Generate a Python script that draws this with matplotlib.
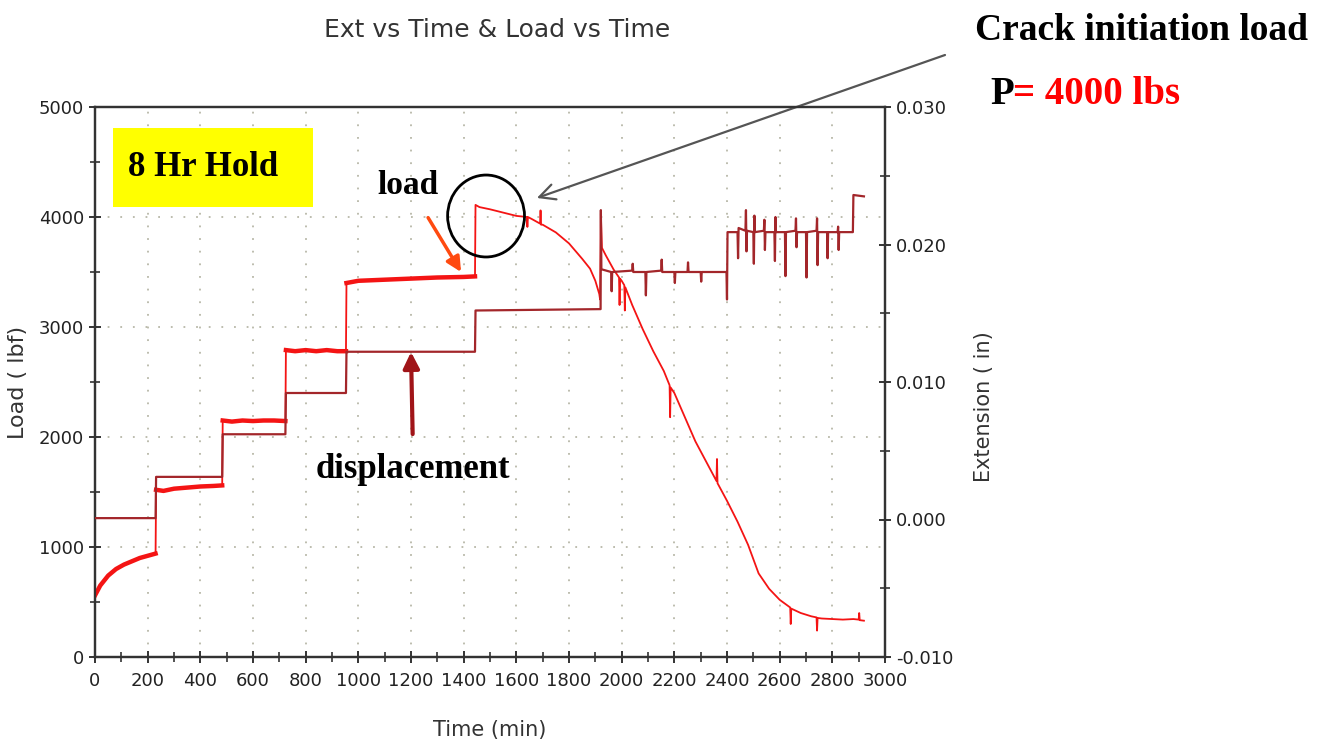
import numpy as np
from matplotlib import pyplot as plt
from matplotlib.patches import Ellipse, Rectangle

# load cell channel (lbf) vs time (min)
load_t = [0, 20, 50, 80, 110, 140, 170, 200, 230,
          232, 260, 300, 350, 400, 450, 483,
          485, 520, 560, 600, 640, 680, 723,
          725, 760, 800, 840, 880, 920, 953,
          955, 1000, 1100, 1200, 1300, 1400, 1443,
          1445, 1460, 1500, 1550, 1600, 1640, 1642, 1644, 1660, 1690, 1692, 1694,
          1700, 1750, 1800, 1850, 1880, 1900, 1915, 1918,
          1920, 1921, 1925, 1940, 1970, 1990, 1992, 1994, 2000, 2010, 2012, 2014,
          2040, 2080, 2120, 2160, 2182, 2184, 2186, 2200, 2240, 2280, 2320,
          2360, 2362, 2364, 2400, 2440, 2480, 2520, 2560, 2600, 2640, 2642, 2644,
          2680, 2720, 2740, 2742, 2744, 2760, 2800, 2840, 2880, 2900, 2902, 2904, 2920]
load_v = [560, 650, 740, 800, 840, 870, 900, 920, 940,
          1520, 1510, 1530, 1540, 1550, 1555, 1560,
          2150, 2140, 2150, 2145, 2150, 2150, 2145,
          2790, 2780, 2790, 2780, 2790, 2780, 2780,
          3400, 3420, 3430, 3440, 3450, 3455, 3460,
          4110, 4090, 4070, 4040, 4010, 4000, 3910, 4000, 3980, 3940, 4060, 3930,
          3930, 3860, 3760, 3620, 3530, 3420, 3300, 3250,
          3700, 4030, 3720, 3650, 3520, 3450, 3200, 3440, 3420, 3380, 3150, 3360,
          3200, 2980, 2780, 2600, 2470, 2180, 2450, 2400, 2180, 1960, 1780,
          1600, 1800, 1580, 1420, 1230, 1020, 760, 620, 520, 450, 300, 440,
          400, 370, 360, 240, 355, 350, 345, 340, 345, 340, 400, 335, 330]

# extensometer channel (in) vs time (min)
ext_t = [0, 230, 232, 483, 485, 723, 725, 953, 955, 1443, 1445, 1918,
         1920, 1921, 1923, 1960, 1962, 1964, 2040, 2042, 2044, 2090, 2092, 2094,
         2150, 2152, 2154, 2200, 2202, 2204, 2250, 2252, 2254, 2300, 2302, 2304,
         2398, 2400, 2402, 2440, 2442, 2444, 2470, 2472, 2474, 2476, 2500, 2502,
         2504, 2506, 2540, 2542, 2544, 2546, 2580, 2582, 2584, 2586, 2620, 2622,
         2624, 2660, 2662, 2664, 2666, 2700, 2702, 2704, 2740, 2742, 2744, 2746,
         2780, 2782, 2784, 2820, 2822, 2824, 2826, 2878, 2880, 2920]
ext_v = [0.0001, 0.0001, 0.0031, 0.0031, 0.0062, 0.0062, 0.0092, 0.0092,
         0.0122, 0.0122, 0.0152, 0.0153,
         0.0153, 0.0225, 0.0182, 0.0180, 0.0166, 0.0180, 0.0181, 0.0186, 0.0180,
         0.0180, 0.0163, 0.0180, 0.0181, 0.0189, 0.0180, 0.0180, 0.0172, 0.0180,
         0.0180, 0.0187, 0.0180, 0.0180, 0.0173, 0.0180,
         0.0180, 0.0160, 0.0209, 0.0209, 0.0190, 0.0212, 0.0210, 0.0225, 0.0195,
         0.0210, 0.0209, 0.0186, 0.0221, 0.0209, 0.0210, 0.0218, 0.0196, 0.0209,
         0.0209, 0.0188, 0.0220, 0.0209, 0.0209, 0.0177, 0.0209, 0.0210, 0.0219,
         0.0198, 0.0209, 0.0209, 0.0176, 0.0209, 0.0210, 0.0219, 0.0185, 0.0209,
         0.0209, 0.0190, 0.0209, 0.0209, 0.0213, 0.0196, 0.0209, 0.0209, 0.0236,
         0.0235]

# constant-load holds, drawn with a heavier trace
holds = [(0, 230), (232, 483), (485, 723), (725, 953), (955, 1443)]

LOAD_C = '#f41414'
EXT_C = '#a3262a'

plt.rcParams['font.family'] = ['DejaVu Sans']
fig = plt.figure(figsize=(13.24, 7.46), dpi=100)
ax = fig.add_axes([95 / 1324, 1 - 657 / 746, 790 / 1324, 550 / 746])
ax2 = ax.twinx()

lt = np.array(load_t)
lv = np.array(load_v)
ax.plot(lt, lv, color=LOAD_C, lw=1.3, zorder=3)
for a, b in holds:
    m = (lt >= a) & (lt <= b)
    ax.plot(lt[m], lv[m], color=LOAD_C, lw=3.2, zorder=3)

ax2.plot(ext_t, ext_v, color=EXT_C, lw=1.6, zorder=3)

ax.set_xlim(0, 3000)
ax.set_ylim(0, 5000)
ax2.set_ylim(-0.010, 0.030)
ax.set_xticks(np.arange(0, 3001, 200))
ax.set_xticks(np.arange(0, 3001, 100), minor=True)
ax.set_yticks(np.arange(0, 5001, 1000))
ax.set_yticks(np.arange(0, 5001, 500), minor=True)
ax2.set_yticks([-0.010, 0.000, 0.010, 0.020, 0.030])
ax2.set_yticks(np.arange(-0.010, 0.0301, 0.005), minor=True)
ax2.set_yticklabels(['-0.010', '0.000', '0.010', '0.020', '0.030'])

ax.grid(True, which='major', color='#b8b8a8', linestyle=(0, (1, 6)), lw=1.3)
for a_ in (ax, ax2):
    for s in a_.spines.values():
        s.set_color('#333333')
        s.set_linewidth(1.6)
    a_.tick_params(which='major', direction='inout', length=9, width=1.4,
                   labelsize=13, labelcolor='#222222', color='#333333')
    a_.tick_params(which='minor', direction='inout', length=7, width=1.2,
                   color='#333333')
ax.tick_params(axis='x', pad=6)

ax.set_xlabel('Time (min)', fontsize=15, color='#333333', labelpad=22)
ax.set_ylabel('Load ( lbf)', fontsize=16, color='#333333')
ax.yaxis.set_label_coords(-0.085, 0.5)
ax2.set_ylabel('Extension ( in)', fontsize=15, color='#333333')
ax2.yaxis.set_label_coords(1.113, 0.455)
fig.text(497 / 1324, 1 - 30 / 746, 'Ext vs Time & Load vs Time', fontsize=18,
         color='#333333', ha='center', va='center')

# hold duration tag
fig.patches.append(Rectangle((113 / 1324, 1 - 207 / 746), 200 / 1324, 79 / 746,
                             transform=fig.transFigure, facecolor='#ffff00',
                             edgecolor='none', zorder=2))
fig.text(128 / 1324, 1 - 167 / 746, '8 Hr Hold', fontsize=25, fontweight='bold',
         family='Liberation Serif', ha='left', va='center', zorder=3)

serif = dict(family='Liberation Serif', fontweight='bold')
ax.annotate('load', xy=(1390, 3500), xytext=(1190, 4290), fontsize=24,
            ha='center', va='center', **serif,
            arrowprops=dict(arrowstyle='-|>', color='#ff4a10', lw=2.5,
                            mutation_scale=22, shrinkA=12, shrinkB=0))
ax.annotate('displacement', xy=(1200, 2773), xytext=(1209, 1700), fontsize=25,
            ha='center', va='center', **serif,
            arrowprops=dict(arrowstyle='-|>', color='#a01418', lw=3,
                            mutation_scale=24, shrinkA=12, shrinkB=0))

# circled crack initiation point
ax.add_patch(Ellipse((1485, 4009), 292, 745, facecolor='none', edgecolor='black',
                     lw=2, zorder=5, clip_on=False))
ax.annotate('', xy=(1678, 4173), xycoords='data',
            xytext=(945 / 1324, 1 - 55 / 746), textcoords='figure fraction',
            arrowprops=dict(arrowstyle='->', color='#555555', lw=1.6,
                            mutation_scale=28, shrinkA=0, shrinkB=0))
fig.text(975 / 1324, 1 - 31 / 746, 'Crack initiation load', fontsize=27,
         ha='left', va='center', **serif)
fig.text(990 / 1324, 1 - 94 / 746, 'P', fontsize=28, ha='left', va='center', **serif)
fig.text(1013 / 1324, 1 - 94 / 746, '= 4000 lbs', fontsize=28, color='#ff0000',
         ha='left', va='center', **serif)

fig.savefig('out.png', dpi=100)
